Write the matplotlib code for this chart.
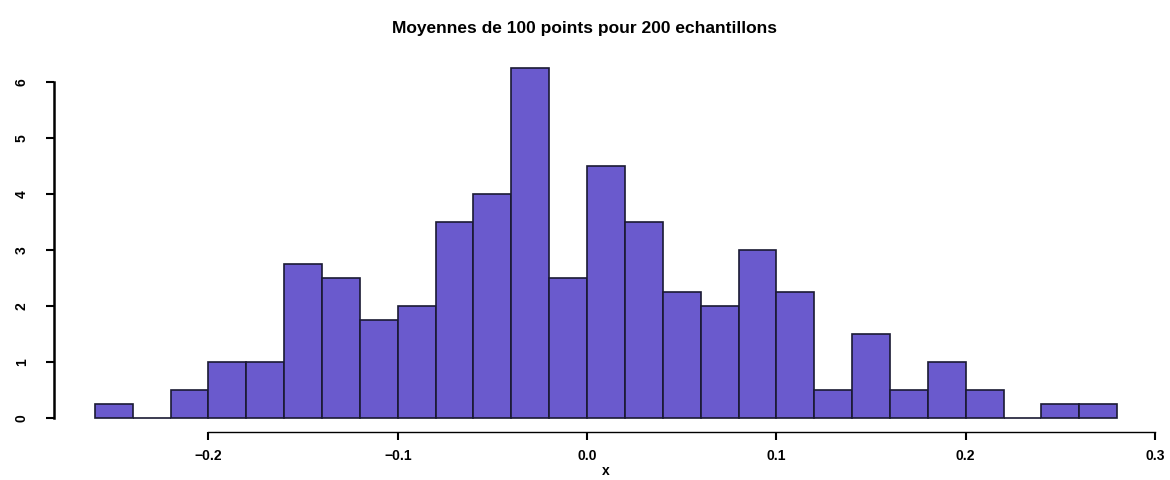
import matplotlib.pyplot as plt
import numpy as np

edges = np.round(np.arange(-0.26, 0.2801, 0.02), 2)
density = [0.25, 0, 0.5, 1, 1, 2.75, 2.5, 1.75, 2, 3.5, 4, 6.25, 2.5,
           4.5, 3.5, 2.25, 2, 3, 2.25, 0.5, 1.5, 0.5, 1, 0.5, 0, 0.25, 0.25]
xticks = [-0.2, -0.1, 0.0, 0.1, 0.2, 0.3]
xticklabels = ['\u22120.2', '\u22120.1', '0.0', '0.1', '0.2', '0.3']
yticks = [0, 1, 2, 3, 4, 5, 6]

plt.rcParams['font.family'] = ['Liberation Sans', 'DejaVu Sans']
plt.rcParams['font.weight'] = 'bold'

fig = plt.figure(figsize=(11.7, 4.8), dpi=100)
ax = fig.add_axes([54/1170, 48/480, 1104/1170, 378/480])

ax.bar(edges[:-1], density, width=np.diff(edges), align='edge',
       color='#6A5ACD', edgecolor='#1a1a33', linewidth=1.2)

ax.set_xlim(-0.2816, 0.3016)
ax.set_ylim(-0.25, 6.5)

for s in ['top', 'right']:
    ax.spines[s].set_visible(False)
ax.spines['left'].set_bounds(0, 6)
ax.spines['bottom'].set_bounds(-0.2, 0.3)
ax.spines['left'].set_linewidth(1.8)
ax.spines['bottom'].set_linewidth(1.0)

ax.set_xticks(xticks)
ax.set_xticklabels(xticklabels)
ax.set_yticks(yticks)
ax.set_yticklabels([str(v) for v in yticks], rotation=90, va='center')
ax.tick_params(axis='both', direction='out', length=6, width=1.5, labelsize=10)
ax.tick_params(axis='x', pad=6)
ax.tick_params(axis='y', pad=12)

ax.set_xlabel('x', fontsize=10, fontweight='bold', labelpad=1)
fig.text(0.5, 0.94, 'Moyennes de 100 points pour 200 echantillons',
         ha='center', va='center', fontsize=12.5, fontweight='bold')

fig.savefig('out.png', dpi=100)
